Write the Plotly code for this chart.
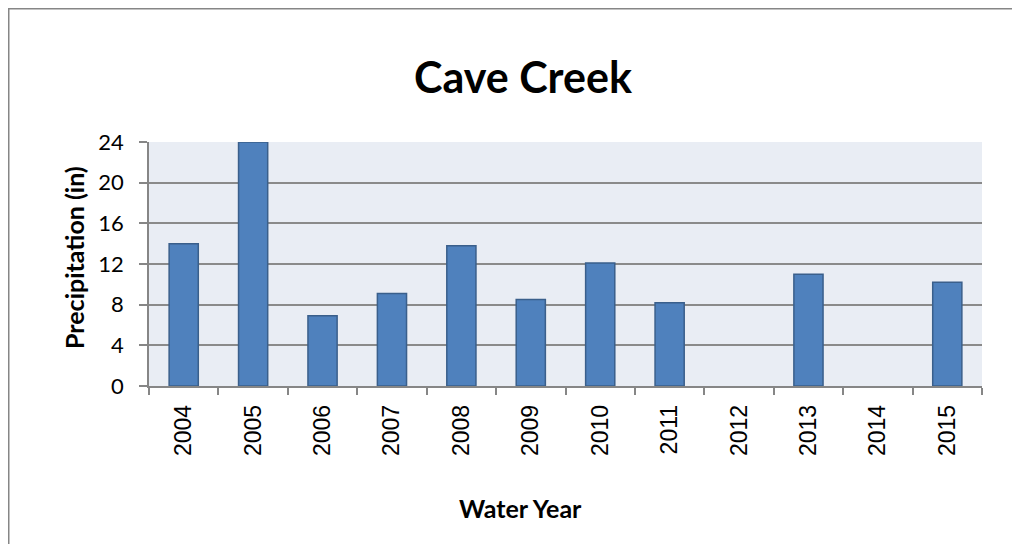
import plotly.graph_objects as go

years = ["2004", "2005", "2006", "2007", "2008", "2009", "2010", "2011", "2012", "2013", "2014", "2015"]
precip = [14.0, 24.0, 6.9, 9.1, 13.8, 8.5, 12.1, 8.2, None, 11.0, None, 10.2]
y_ticks = [0, 4, 8, 12, 16, 20, 24]

# the page body has an 8px margin, so figure coords = screen coords - 8
W, H = 1012, 536
L, R, T, B = 141, 974, 134, 378
pw, ph = R - L, B - T

def px(x):
    return (x - L) / pw

def py(y):
    return (B - y) / ph

fig = go.Figure(go.Bar(
    x=years, y=precip,
    marker=dict(color="#4F81BD", line=dict(color="#3A5F8B", width=1.5)),
))

fig.update_layout(
    width=W, height=H,
    margin=dict(l=L, r=W - R, t=T, b=H - B, pad=0),
    paper_bgcolor="white",
    plot_bgcolor="#E9EDF4",
    bargap=0.58,
    showlegend=False,
    xaxis=dict(
        type="category",
        tickangle=-90,
        tickfont=dict(family="Liberation Sans", size=23, color="black"),
        ticks="outside", tickson="boundaries", ticklen=7,
        tickcolor="#868686", tickwidth=1.5,
        ticklabelstandoff=8,
        showline=True, linecolor="#868686", linewidth=1.5,
        showgrid=False,
    ),
    yaxis=dict(
        range=[0, 24],
        tickvals=y_ticks,
        tickfont=dict(family="Lato", size=22, color="black"),
        ticks="outside", ticklen=8, tickcolor="#868686", tickwidth=1.5,
        ticklabelstandoff=11,
        showline=True, linecolor="#868686", linewidth=1.5,
        showgrid=True, gridcolor="#8A8A8A", gridwidth=1.5,
        zeroline=False,
    ),
    annotations=[
        dict(text="<b>Cave Creek</b>", x=px(515), y=py(68), xref="paper", yref="paper",
             showarrow=False, xanchor="center", yanchor="middle",
             font=dict(family="Lato", size=43, color="black")),
        dict(text="<b>Precipitation (in)</b>", x=px(66), y=py(250), xref="paper", yref="paper",
             showarrow=False, xanchor="center", yanchor="middle", textangle=-90,
             font=dict(family="Lato", size=25, color="black")),
        dict(text="<b>Water Year</b>", x=px(512), y=py(500), xref="paper", yref="paper",
             showarrow=False, xanchor="center", yanchor="middle",
             font=dict(family="Lato", size=25, color="black")),
    ],
    shapes=[
        dict(type="rect", xref="paper", yref="paper",
             x0=px(0.75), x1=px(1040), y0=py(0.75), y1=py(570),
             line=dict(color="#868686", width=1.5), fillcolor="rgba(0,0,0,0)", layer="below"),
    ],
)

fig.write_html("out.html")
